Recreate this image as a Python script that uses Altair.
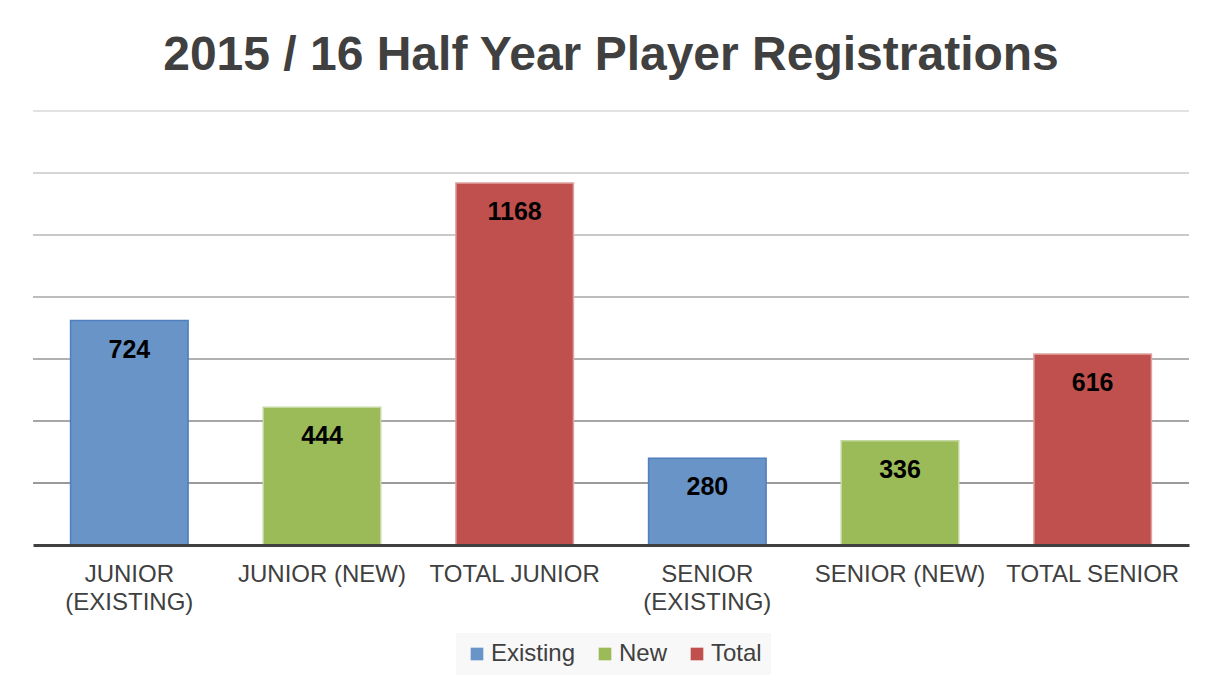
import altair as alt
import pandas as pd

categories = ["JUNIOR\n(EXISTING)", "JUNIOR (NEW)", "TOTAL  JUNIOR",
              "SENIOR\n(EXISTING)", "SENIOR (NEW)", "TOTAL  SENIOR"]
values = [724, 444, 1168, 280, 336, 616]
groups = ["Existing", "New", "Total", "Existing", "New", "Total"]
group_order = ["Existing", "New", "Total"]
group_colors = ["#6894C8", "#9BBB59", "#C0504D"]
group_strokes = ["#4F7FBC", "#C4D8A0", "#E0A2A0"]
gridlines = [200, 400, 600, 800, 1000, 1200, 1400]

df = pd.DataFrame({"category": categories, "value": values, "group": groups})
grid_df = pd.DataFrame({"g": gridlines})

FONT = "Liberation Sans"

x_enc = alt.X("category:N", sort=categories, title=None,
              scale=alt.Scale(paddingInner=0.39, paddingOuter=0.195),
              axis=alt.Axis(labelExpr="split(datum.label, '\\n')", labelAngle=0,
                            labelFontSize=24, labelColor="#404040", labelFont=FONT,
                            labelLineHeight=28, labelPadding=17, ticks=False,
                            labelLimit=0, labelOverlap=False,
                            domainColor="#404040", domainWidth=3, grid=False,
                            zindex=1))
y_scale = alt.Scale(domain=[0, 1400], nice=False)

grid = alt.Chart(grid_df).mark_rule(strokeWidth=2).encode(
    y=alt.Y("g:Q", scale=y_scale, axis=None),
    stroke=alt.Stroke("g:Q", scale=alt.Scale(domain=[200, 1400], range=["#9a9a9a", "#e2e2e2"]),
                      legend=None),
)

bars = alt.Chart(df).mark_bar(strokeWidth=1.5).encode(
    x=x_enc,
    y=alt.Y("value:Q", scale=y_scale, axis=None),
    color=alt.Color("group:N", sort=group_order,
                    scale=alt.Scale(domain=group_order, range=group_colors),
                    legend=alt.Legend(title=None, orient="none", direction="horizontal",
                                      legendX=423, legendY=522,
                                      symbolType="square", symbolSize=160,
                                      symbolStrokeWidth=0, labelFontSize=24,
                                      labelColor="#404040", labelFont=FONT,
                                      fillColor="#f8f8f8", padding=9,
                                      columnPadding=17, labelOffset=2)),
    stroke=alt.Stroke("group:N", scale=alt.Scale(domain=group_order, range=group_strokes),
                      legend=None),
)

labels = alt.Chart(df).mark_text(fontSize=25, fontWeight="bold", font=FONT,
                                 color="#000000", baseline="alphabetic", dy=37).encode(
    x=alt.X("category:N", sort=categories),
    y=alt.Y("value:Q", scale=y_scale),
    text=alt.Text("value:Q"),
)

chart = alt.layer(grid, bars, labels).resolve_scale(stroke="independent").properties(
    width=1156, height=434,
    padding={"left": 24, "top": 24, "right": 10, "bottom": 5},
    title=alt.TitleParams("2015 / 16  Half  Year  Player  Registrations",
                          fontSize=48, fontWeight="bold", color="#404040",
                          font=FONT, offset=30, anchor="middle"),
).configure(background="#ffffff").configure_view(stroke=None)

chart.save("out.html", embed_options={"renderer": "svg", "actions": False})
